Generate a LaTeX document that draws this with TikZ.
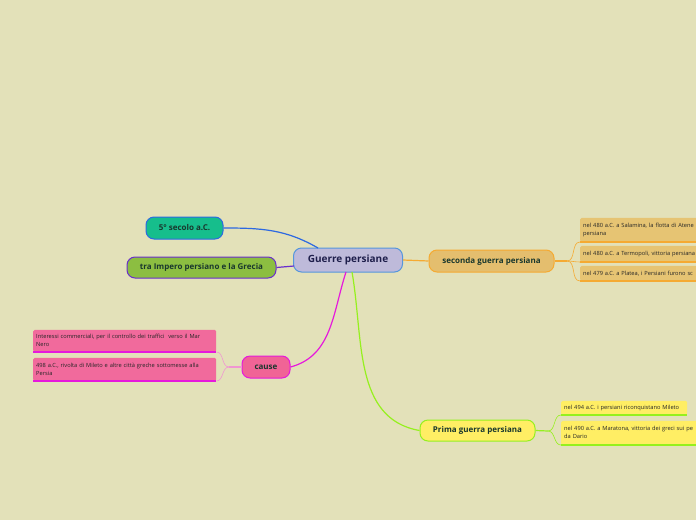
\documentclass[tikz,border=0pt]{standalone}
\usepackage{fontspec}
\setmainfont{Open Sans}
\usetikzlibrary{positioning}
\definecolor{paper}{RGB}{227,225,185}
\definecolor{centrefill}{RGB}{190,186,218}
\definecolor{centreline}{RGB}{85,150,220}
\definecolor{tealfill}{RGB}{22,190,140}
\definecolor{blueline}{RGB}{45,105,225}
\definecolor{greenfill}{RGB}{140,190,65}
\definecolor{purpleline}{RGB}{105,45,205}
\definecolor{ochrefill}{RGB}{228,190,110}
\definecolor{orangeline}{RGB}{245,170,50}
\definecolor{pinkfill}{RGB}{240,100,150}
\definecolor{magentaline}{RGB}{230,25,220}
\definecolor{lightmagenta}{RGB}{240,150,210}
\definecolor{yellowfill}{RGB}{255,238,100}
\definecolor{limeline}{RGB}{150,240,30}
\definecolor{leafochre}{RGB}{230,196,115}
\definecolor{leafpink}{RGB}{241,106,156}
\definecolor{darktext}{RGB}{25,55,45}

\begin{document}
\begin{tikzpicture}[x=1pt, y=-1pt,
    topic/.style={rounded corners=8pt, line width=1pt, text=darktext,
                  font=\fontsize{8}{9}\selectfont\bfseries},
    leaf/.style={anchor=south west, rounded corners=1.5pt, inner xsep=3pt,
                 align=left, text=black!85,
                 font=\fontsize{5.7}{8}\selectfont},
    link/.style={line width=1.2pt}]
  \clip (0,0) rectangle (696,520);
  \fill[paper] (0,0) rectangle (696,520);

  % main node and topics
  \node[topic, draw=centreline, fill=centrefill, text={rgb,255:red,30;green,30;blue,75},
        minimum width=109pt, minimum height=24pt,
        font=\fontsize{10}{12}\selectfont\bfseries] (central) at (348,260) {Guerre persiane};
  \node[topic, draw=blueline, fill=tealfill, minimum width=77pt, minimum height=22pt] (secolo) at (184.5,228) {5° secolo a.C.};
  \node[topic, draw=purpleline, fill=greenfill, minimum width=149pt, minimum height=21pt] (impero) at (201.5,267.5) {tra Impero persiano e la Grecia};
  \node[topic, draw=orangeline, fill=ochrefill, minimum width=125pt, minimum height=22pt] (seconda) at (491.5,261) {seconda guerra persiana};
  \node[topic, draw=magentaline, fill=pinkfill, minimum width=48pt, minimum height=22pt] (cause) at (266,367) {cause};
  \node[topic, draw=limeline, fill=yellowfill, minimum width=115pt, minimum height=21pt] (prima) at (477.5,430.5) {Prima guerra persiana};

  \coordinate (ctop) at (318,248);
  \coordinate (cleft) at (294,266);
  \coordinate (cbotl) at (346,272);
  \coordinate (cbotr) at (352,272);
  \draw[link, blueline] (secolo.east) to[out=0, in=150] (ctop);
  \draw[link, purpleline] (impero.east) -- (cleft);
  \draw[link, orangeline] (central.east) -- (seconda.west);
  \draw[link, magentaline] (cbotl) to[out=-108, in=15] (cause.east);
  \draw[link, limeline] (cbotr) to[out=-80, in=170] (prima.west);

  % seconda guerra persiana
  \node[leaf, fill=leafochre, minimum width=140pt, minimum height=24pt, text width=134pt] (salamina) at (580,242)
    {nel 480 a.C. a Salamina, la flotta di Atene\\persiana};
  \node[leaf, fill=leafochre, minimum width=140pt, minimum height=16pt, text width=134pt] (termopoli) at (580,262)
    {nel 480 a.C. a Termopoli, vittoria persiana};
  \node[leaf, fill=leafochre, minimum width=140pt, minimum height=15pt, text width=134pt] (platea) at (580,281)
    {nel 479 a.C. a Platea, i Persiani furono sc};
  \foreach \n in {salamina,termopoli,platea}
    \draw[line width=1.2pt, orangeline] (\n.south west) -- (\n.south east);
  \coordinate (sbranch) at (567,261);
  \draw[link, orangeline] (seconda.east) -- (sbranch);
  \foreach \n in {salamina,termopoli,platea}
    \draw[line width=0.6pt, orangeline] (sbranch) to[out=0, in=180] (\n.south west);

  % cause
  \node[leaf, fill=leafpink, minimum width=183pt, minimum height=22pt, text width=177pt] (commerci) at (33,352)
    {Interessi commerciali, per il controllo dei traffici\ \ verso il Mar\\Nero};
  \node[leaf, fill=leafpink, minimum width=183pt, minimum height=23pt, text width=177pt] (mileto) at (33,381)
    {498 a.C., rivolta di Mileto e altre città greche sottomesse alla\\Persia};
  \foreach \n in {commerci,mileto}
    \draw[line width=1.2pt, magentaline] (\n.south west) -- (\n.south east);
  \coordinate (cbranch) at (229,367);
  \draw[link, lightmagenta] (cause.west) -- (cbranch);
  \foreach \n in {commerci,mileto}
    \draw[line width=0.6pt, lightmagenta] (cbranch) to[out=180, in=0] (\n.south east);

  % prima guerra persiana
  \node[leaf, fill=yellowfill, minimum width=126pt, minimum height=14pt, text width=120pt] (riconquista) at (561,415)
    {nel 494 a.C. i persiani riconquistano Mileto};
  \node[leaf, fill=yellowfill, minimum width=150pt, minimum height=24pt, text width=144pt] (maratona) at (561,445)
    {nel 490 a.C. a Maratona, vittoria dei greci sui pe\\da Dario};
  \foreach \n in {riconquista,maratona}
    \draw[line width=1.2pt, limeline] (\n.south west) -- (\n.south east);
  \coordinate (pbranch) at (548,431);
  \draw[link, limeline] (prima.east) -- (pbranch);
  \foreach \n in {riconquista,maratona}
    \draw[line width=0.6pt, limeline] (pbranch) to[out=0, in=180] (\n.south west);
\end{tikzpicture}
\end{document}
